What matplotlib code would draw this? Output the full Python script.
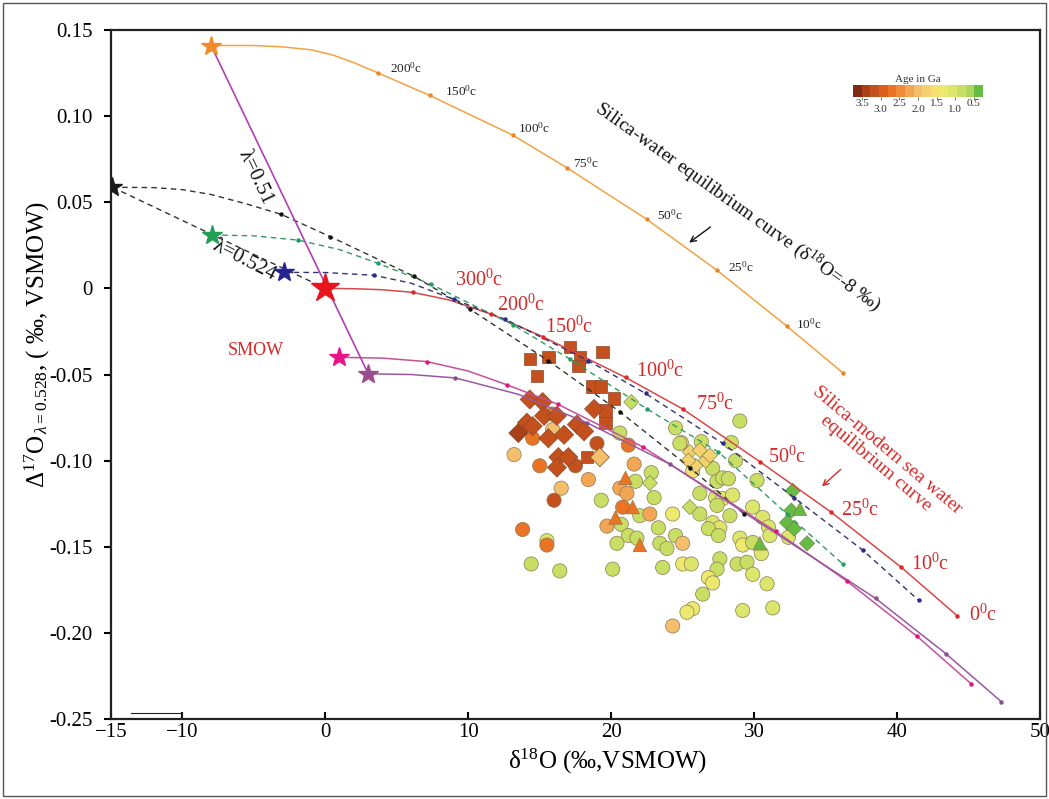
import matplotlib
matplotlib.use('Agg')
import matplotlib.pyplot as plt
import matplotlib.colors as colors
import matplotlib.cm as cmx
from matplotlib.patches import Rectangle

plt.rcParams['font.family'] = ['Liberation Serif', 'DejaVu Serif']
plt.rcParams['mathtext.fontset'] = 'custom'
plt.rcParams['mathtext.rm'] = 'Liberation Serif'
plt.rcParams['mathtext.it'] = 'Liberation Serif:italic'
plt.rcParams['mathtext.bf'] = 'Liberation Serif:bold'

# ---- end members (stars) ----
star_orange = (-8.0, 0.141)
star_black = (-14.9, 0.0587)
star_green = (-7.9, 0.031)
star_blue = (-2.9, 0.0093)
star_red = (0.0, 0.0)
star_pink = (0.98, -0.040)
star_purple = (3.0, -0.0496)

# ---- equilibrium curves: bend points (no marker) + temperature dots ----
orange_bend_x = [-5.0, -3.0, -1.0, 0.5, 2.0]
orange_bend_y = [0.1410, 0.1402, 0.1385, 0.1355, 0.1310]
orange_dot_x = [3.7, 7.3, 13.1, 16.9, 22.5, 27.4, 32.3, 36.2]
orange_dot_y = [0.125, 0.112, 0.089, 0.070, 0.040, 0.0105, -0.022, -0.049]
orange_labels = ['200', '150', '100', '75', '50', '25', '10']
orange_label_x = [4.5, 8.4, 13.5, 17.3, 23.2, 28.2, 32.9]
orange_label_y = [0.128, 0.1145, 0.093, 0.0727, 0.0424, 0.0122, -0.021]

red_bend_x = [2.0, 4.0, 8.7]
red_bend_y = [-0.0002, -0.0008, -0.0068]
red_dot_x = [6.1, 11.6, 15.2, 21.0, 25.0, 30.4, 35.4, 40.3, 44.2]
red_dot_y = [-0.0023, -0.015, -0.028, -0.0517, -0.070, -0.1006, -0.130, -0.162, -0.190]
red_labels = ['300', '200', '150', '100', '75', '50', '25', '10', '0']
red_label_x = [9.1, 12.0, 15.4, 21.7, 25.9, 31.0, 36.1, 41.0, 45.0]
red_label_y = [0.0047, -0.0099, -0.0227, -0.048, -0.067, -0.098, -0.129, -0.160, -0.190]

blue_bend_x = [0.0, 6.0]
blue_bend_y = [0.0092, 0.0030]
blue_dot_x = [3.4, 9.0, 12.6, 18.4, 22.4, 27.8, 32.8, 37.6, 41.5]
blue_dot_y = [0.0076, -0.0064, -0.018, -0.042, -0.061, -0.090, -0.1215, -0.152, -0.181]

green_bend_x = [-5.0, 1.0]
green_bend_y = [0.0305, 0.0225]
green_dot_x = [-1.9, 3.7, 7.4, 13.1, 17.1, 22.5, 27.5, 32.3, 36.2]
green_dot_y = [0.028, 0.0145, 0.0023, -0.021, -0.041, -0.070, -0.095, -0.131, -0.160]

black_bend_x = [-12.0, -10.0, -8.0, -5.5]
black_bend_y = [0.0585, 0.0573, 0.0545, 0.0490]
black_dot_x = [-3.1, 0.35, 6.2, 10.1, 15.6, 20.6, 25.5, 29.3]
black_dot_y = [0.043, 0.030, 0.007, -0.012, -0.042, -0.0716, -0.104, -0.131]

pink_bend_x = [4.0, 10.0]
pink_bend_y = [-0.0405, -0.0480]
pink_dot_x = [7.1, 12.7, 16.3, 22.2, 31.5, 36.5, 41.4, 45.2]
pink_dot_y = [-0.0425, -0.056, -0.0674, -0.092, -0.141, -0.170, -0.202, -0.2297]

purple_bend_x = [6.0, 13.5]
purple_bend_y = [-0.050, -0.0615]
purple_dot_x = [9.1, 18.3, 24.1, 38.5, 43.4, 47.3]
purple_dot_y = [-0.052, -0.078, -0.102, -0.180, -0.212, -0.240]

# ---- chert / silica samples, colored by age (Ga) ----
sq_x = [17.1, 17.8, 19.4, 14.3, 15.6, 17.7, 14.8, 18.7, 19.3, 20.2, 19.6, 19.6, 18.3]
sq_y = [-0.034, -0.040, -0.037, -0.041, -0.040, -0.045, -0.051, -0.057, -0.057,
        -0.064, -0.071, -0.078, -0.098]
sq_age = [3.1, 3.1, 3.1, 3.15, 3.1, 3.1, 3.15, 3.1, 3.1, 3.1, 3.1, 3.1, 3.15]

dm_x = [14.3, 15.2, 15.3, 16.2, 14.1, 14.5, 13.5, 15.6, 16.7, 17.6, 16.3, 17.0,
        16.2, 18.8, 18.1, 19.2]
dm_y = [-0.0645, -0.066, -0.074, -0.074, -0.078, -0.080, -0.084, -0.087, -0.085,
        -0.079, -0.098, -0.098, -0.104, -0.070, -0.083, -0.098]
dm_age = [3.2, 3.2, 3.2, 3.15, 3.25, 3.25, 3.3, 3.2, 3.15, 3.2, 3.2, 3.2, 3.2, 3.15,
          3.2, 2.1]

gd_x = [21.4, 22.7, 25.5, 25.5, 26.2, 26.6, 25.9, 25.4, 26.9,
        32.7, 32.6, 32.3, 32.8, 33.7]
gd_y = [-0.066, -0.113, -0.127, -0.095, -0.094, -0.100, -0.103, -0.100, -0.097,
        -0.1175, -0.129, -0.136, -0.1395, -0.148]
gd_age = [0.9, 0.8, 0.8, 1.8, 1.8, 1.8, 1.8, 1.8, 1.8,
          0.3, 0.3, 0.3, 0.3, 0.3]

tri_x = [21.0, 20.3, 21.5, 22.0, 33.2, 30.4]
tri_y = [-0.110, -0.133, -0.127, -0.149, -0.128, -0.148]
tri_age = [2.6, 2.6, 2.6, 2.6, 0.3, 0.3]

ci_x = [15.9, 15.9, 14.5, 13.2, 15.0, 17.5, 16.5, 16.0, 13.8, 15.5, 15.5, 14.4,
        16.4, 19.0, 20.6, 21.2, 21.6, 18.4, 19.3, 22.8, 21.7, 23.0, 20.6, 21.1,
        20.8, 19.7, 20.7, 22.0, 22.7, 21.2, 20.4, 21.8, 20.1, 23.3, 24.3, 24.5,
        23.4, 23.9, 25.0, 25.0, 25.6, 23.6, 24.5, 24.9, 26.3, 24.8, 25.7, 27.1,
        27.4, 27.8, 28.2, 26.2, 27.3, 27.8, 28.5, 27.4, 28.3, 26.2, 27.1, 27.6,
        26.8, 27.5, 29.0, 28.4, 28.7, 30.2, 29.9, 30.6, 31.0, 31.1, 29.0, 29.2,
        29.9, 30.5, 28.8, 29.5, 29.9, 30.9, 27.6, 27.4, 26.8, 27.1, 26.4, 25.7,
        25.3, 24.3, 29.2, 31.3, 32.4]
ci_y = [-0.073, -0.082, -0.087, -0.0965, -0.103, -0.103, -0.116, -0.123, -0.140,
        -0.1465, -0.149, -0.160, -0.164, -0.090, -0.084, -0.091, -0.102, -0.111,
        -0.123, -0.107, -0.112, -0.1215, -0.116, -0.119, -0.127, -0.138, -0.137,
        -0.132, -0.131, -0.1435, -0.148, -0.145, -0.163, -0.139, -0.131, -0.1435,
        -0.148, -0.151, -0.148, -0.160, -0.160, -0.162, -0.081, -0.0895, -0.089,
        -0.090, -0.106, -0.1045, -0.112, -0.110, -0.1105, -0.119, -0.1215, -0.122,
        -0.120, -0.126, -0.132, -0.131, -0.136, -0.139, -0.1395, -0.1435, -0.077,
        -0.0895, -0.100, -0.1115, -0.127, -0.133, -0.1385, -0.1435, -0.145, -0.149,
        -0.1475, -0.154, -0.160, -0.159, -0.166, -0.1715, -0.157, -0.163, -0.168,
        -0.171, -0.1775, -0.186, -0.188, -0.196, -0.187, -0.1855, -0.1445]
ci_age = [2.8, 2.0, 2.8, 2.0, 2.8, 3.1, 2.0, 3.1, 2.8, 1.0, 2.8, 0.9,
          0.9, 3.1, 0.9, 2.6, 2.2, 2.2, 0.9, 0.85, 0.8, 0.8, 2.2, 2.2,
          2.7, 2.2, 0.9, 0.9, 2.2, 0.9, 0.8, 0.9, 0.8, 0.8, 1.4, 0.8,
          0.8, 0.8, 2.1, 1.3, 1.1, 0.8, 0.8, 1.8, 0.8, 0.8, 1.5, 0.8,
          0.8, 0.8, 0.8, 0.8, 1.0, 1.0, 1.0, 0.8, 0.8, 0.8, 1.0, 1.0,
          0.8, 0.8, 0.8, 0.8, 0.8, 0.8, 1.0, 1.0, 1.0, 1.0, 1.0, 1.3,
          0.8, 1.0, 0.8, 0.8, 1.0, 1.0, 0.8, 0.8, 1.3, 1.3, 0.8, 1.3,
          1.3, 2.1, 1.0, 1.1, 1.0]

age_ticks = [3.5, 3.0, 2.5, 2.0, 1.5, 1.0, 0.5]
x_ticks = [-15, -10, 0, 10, 20, 30, 40, 50]
y_ticks = [0.15, 0.10, 0.05, 0, -0.05, -0.10, -0.15, -0.20, -0.25]
y_tick_labels = ['0.15', '0.10', '0.05', '0', '-0.05', '-0.10', '-0.15', '-0.20', '-0.25']

age_colors = ['#7E2A14', '#A8401A', '#C4501E', '#DC5F1E', '#EB7424', '#F08A38',
              '#F2A552', '#F4BE6C', '#F5D070', '#F3E070', '#EDE86E', '#DCE66C',
              '#C8DE64', '#AED65A', '#66BB44']


def age_cmap():
    cm = colors.LinearSegmentedColormap.from_list('age', age_colors[::-1], N=15)
    norm = colors.Normalize(vmin=0.25, vmax=3.75)
    return cm, norm


def plot_curve(ax, star, bx, by, dx, dy, lc, dc, ls='-', lw=1.1):
    pts = sorted([star] + list(zip(bx, by)) + list(zip(dx, dy)))
    ax.plot([p[0] for p in pts], [p[1] for p in pts], color=lc, ls=ls, lw=lw, zorder=5)
    ax.plot(dx, dy, 'o', color=dc, ms=3.2, mec='none', zorder=6)


def deg(t):
    return t + r'$^\mathrm{0}$c'


fig = plt.figure(figsize=(10.49, 7.99), dpi=100)
ax = fig.add_axes([111 / 1049, 80 / 799, 929 / 1049, 689 / 799])
cm, norm = age_cmap()

# sample points
ax.scatter(ci_x, ci_y, c=ci_age, cmap=cm, norm=norm, marker='o', s=105,
           edgecolors='#8a7a55', linewidths=0.5, zorder=3)
ax.scatter(sq_x, sq_y, c=sq_age, cmap=cm, norm=norm, marker='s', s=80,
           edgecolors='#8a4a2a', linewidths=0.5, zorder=3)
ax.scatter(dm_x, dm_y, c=dm_age, cmap=cm, norm=norm, marker='D', s=95,
           edgecolors='#8a4a2a', linewidths=0.5, zorder=3)
ax.scatter(gd_x, gd_y, c=gd_age, cmap=cm, norm=norm, marker='D', s=60,
           edgecolors='#6a7a3a', linewidths=0.4, zorder=3)
ax.scatter(tri_x, tri_y, c=tri_age, cmap=cm, norm=norm, marker='^', s=95,
           edgecolors='#8a6a3a', linewidths=0.4, zorder=3)

# equilibrium curves
plot_curve(ax, star_orange, orange_bend_x, orange_bend_y, orange_dot_x, orange_dot_y,
           '#F2A244', '#E8862A')
plot_curve(ax, star_red, red_bend_x, red_bend_y, red_dot_x, red_dot_y,
           '#D84848', '#E02828')
plot_curve(ax, star_blue, blue_bend_x, blue_bend_y, blue_dot_x, blue_dot_y,
           '#33336E', '#2A2A90', ls=(0, (4, 3)), lw=1.0)
plot_curve(ax, star_green, green_bend_x, green_bend_y, green_dot_x, green_dot_y,
           '#2E9A66', '#22A060', ls=(0, (4, 3)), lw=1.0)
plot_curve(ax, star_black, black_bend_x, black_bend_y, black_dot_x, black_dot_y,
           '#333333', '#111111', ls=(0, (4, 3)), lw=1.0)
plot_curve(ax, star_pink, pink_bend_x, pink_bend_y, pink_dot_x, pink_dot_y,
           '#C3519C', '#E0147E')
plot_curve(ax, star_purple, purple_bend_x, purple_bend_y, purple_dot_x, purple_dot_y,
           '#9A58A0', '#87508A')

# mixing lines
ax.plot([star_orange[0], star_purple[0]], [star_orange[1], star_purple[1]],
        color='#B040B4', lw=1.2, zorder=5)
ax.plot([star_black[0], star_red[0]], [star_black[1], star_red[1]],
        color='#333333', lw=1.0, ls=(0, (4, 3)), zorder=5)

# end-member stars
for (sx, sy), c, ms in [(star_orange, '#F08C2A', 15), (star_black, '#1a1a1a', 15),
                        (star_green, '#1FA055', 15), (star_blue, '#25258F', 15),
                        (star_red, '#E8141E', 21), (star_pink, '#E8158A', 15),
                        (star_purple, '#9A4C8C', 15)]:
    ax.plot(sx, sy, '*', color=c, ms=ms, mec=c, zorder=8)

# temperature labels
for t, lx, ly in zip(orange_labels, orange_label_x, orange_label_y):
    ax.text(lx, ly, deg(t), fontsize=9.5, color='#222222', va='center', ha='left', zorder=9)
for t, lx, ly in zip(red_labels, red_label_x, red_label_y):
    ax.text(lx, ly, deg(t), fontsize=14.5, color='#D42A2A', va='center', ha='left', zorder=9)

ax.text(28.9, 0.0477, 'Silica-water equilibrium curve (δ$^{18}$O=-8 ‰)', fontsize=14,
        rotation=-35.5, rotation_mode='anchor', ha='center', va='center', color='#111111')
ax.annotate('', xy=(25.3, 0.0256), xytext=(27.1, 0.0366),
            arrowprops=dict(arrowstyle='->', color='#111111', lw=1.0))
ax.text(38.9, -0.098, 'Silica-modern sea water\nequilibrium curve', fontsize=14,
        rotation=-40, rotation_mode='anchor', ha='center', va='center', color='#D42A2A',
        linespacing=1.0)
ax.annotate('', xy=(34.6, -0.116), xytext=(36.2, -0.104),
            arrowprops=dict(arrowstyle='->', color='#D42A2A', lw=1.0))
ax.text(-4.9, -0.036, 'SMOW', fontsize=13, color='#D42A2A', ha='center', va='center')
ax.text(-4.9, 0.0645, 'λ=0.51', fontsize=15, rotation=-64.5, rotation_mode='anchor',
        ha='center', va='center', color='#111111')
ax.text(-5.7, 0.016, 'λ=0.524', fontsize=15, rotation=-27, rotation_mode='anchor',
        ha='center', va='center', color='#111111')

# stray corner mark
ax.plot([-13.6, -10, -10], [-0.2465, -0.2465, -0.25], color='#222222', lw=0.8, zorder=2)

ax.set_xlim(-15, 50)
ax.set_ylim(-0.25, 0.15)
ax.set_xticks(x_ticks)
ax.set_yticks(y_ticks)
ax.set_yticklabels(y_tick_labels)
ax.tick_params(axis='x', direction='in', length=5, width=1.5, labelsize=15, pad=3)
ax.tick_params(axis='y', direction='out', length=5, width=1.5, labelsize=15, pad=8)
for s in ax.spines.values():
    s.set_linewidth(1.6)
    s.set_color('#222222')

ax.set_xlabel('δ$^{18}$O (‰,VSMOW)', fontsize=18)
ax.set_ylabel('Δ$^{17}$O$_{\\,λ=0.528}$, ( ‰, VSMOW)', fontsize=18)
ax.xaxis.set_label_coords(0.535, -0.040)
ax.yaxis.set_label_coords(-0.0635, 0.543)

# age colour bar
cax = fig.add_axes([853 / 1049, (799 - 97) / 799, 130 / 1049, 12 / 799])
cb = fig.colorbar(cmx.ScalarMappable(norm=norm, cmap=cm), cax=cax, orientation='horizontal')
cb.outline.set_visible(False)
cax.invert_xaxis()
cb.set_ticks(age_ticks)
cax.tick_params(length=2, width=0.6, labelbottom=False, color='#555555')
for i, a in enumerate(age_ticks):
    cax.text(a, -0.55 if i % 2 == 0 else -1.05, '%.1f' % a, transform=cax.get_xaxis_transform(),
             ha='center', va='center', fontsize=8, color='#333333')
cax.set_title('Age in Ga', fontsize=8, pad=2, color='#333333')

fig.patches.append(Rectangle((0.003, 0.004), 0.994, 0.992, transform=fig.transFigure,
                             fill=False, ec='#555555', lw=1.0))

fig.savefig('out.png', dpi=100)
